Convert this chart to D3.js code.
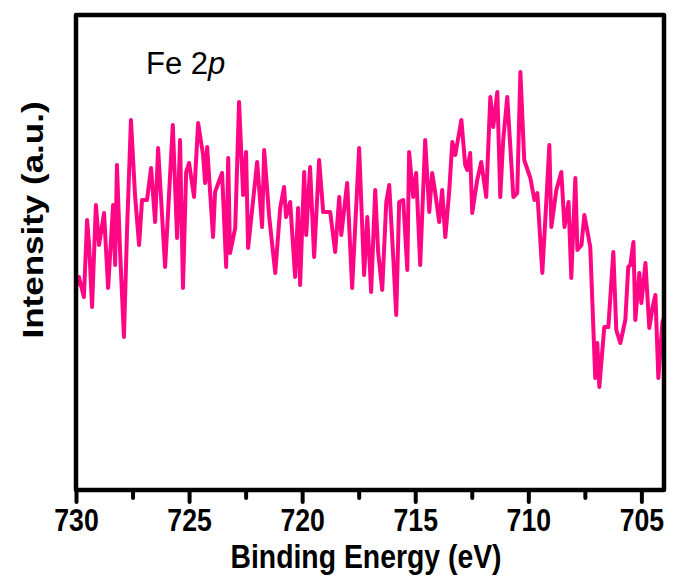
<!DOCTYPE html>
<html>
<head>
<meta charset="utf-8">
<script src="https://cdn.jsdelivr.net/npm/d3@7"></script>
<style>
  body { margin: 0; background: #fff; }
  svg { display: block; }
</style>
</head>
<body>
<div id="chart"></div>
<script>
// Fe 2p XPS spectrum (vertices of the noisy trace)
let energies = [
  729.96, 729.87, 729.65, 729.51, 729.42, 729.29, 729.12, 728.98, 728.76, 728.58,
  728.36, 728.27, 728.19, 728.05, 727.88, 727.74, 727.57, 727.39, 727.21, 727.08,
  726.86, 726.68, 726.50, 726.37, 726.24, 726.06, 725.72, 725.53, 725.40, 725.27,
  725.13, 725.00, 724.78, 724.60, 724.38, 724.29, 724.20, 723.94, 723.85, 723.54,
  723.36, 723.27, 723.19, 722.96, 722.79, 722.61, 722.48, 722.39, 721.99, 721.77,
  721.68, 721.46, 721.19, 720.97, 720.80, 720.71, 720.53, 720.31, 720.18, 720.09,
  719.91, 719.82, 719.65, 719.47, 719.25, 719.07, 718.76, 718.54, 718.36, 718.27,
  718.01, 717.79, 717.48, 717.26, 717.12, 716.95, 716.77, 716.64, 716.46, 716.28,
  716.15, 715.97, 715.84, 715.71, 715.53, 715.35, 715.27, 715.09, 714.96, 714.78,
  714.56, 714.38, 714.25, 714.12, 713.94, 713.81, 713.67, 713.50, 713.36, 713.23,
  712.96, 712.79, 712.70, 712.57, 712.48, 712.26, 712.08, 711.86, 711.68, 711.55,
  711.37, 711.24, 711.11, 710.93, 710.66, 710.49, 710.35, 710.18, 709.91, 709.73,
  709.60, 709.38, 709.20, 709.07, 708.98, 708.76, 708.54, 708.40, 708.22, 708.10,
  707.92, 707.83, 707.65, 707.52, 707.26, 707.04, 706.95, 706.86, 706.64, 706.46,
  706.24, 706.11, 705.93, 705.71, 705.58, 705.49, 705.35, 705.27, 705.09, 705.00,
  704.82, 704.65, 704.51, 704.38, 704.25, 704.07, 704.00
];
let intensity = [
  205, 213, 193, 270, 245, 183, 285, 245, 277, 202,
  285, 225, 325, 238, 153, 262, 370, 295, 245, 290,
  290, 322, 268, 342, 292, 223, 365, 252, 350, 202,
  318, 327, 293, 367, 335, 307, 343, 253, 298, 317,
  223, 332, 237, 262, 388, 295, 338, 242, 328, 263,
  340, 274, 217, 282, 303, 273, 288, 213, 282, 205,
  318, 255, 323, 233, 330, 278, 278, 238, 293, 255,
  307, 202, 342, 215, 273, 198, 300, 238, 200, 288,
  305, 232, 175, 288, 290, 220, 338, 293, 317, 225,
  350, 278, 317, 298, 268, 300, 253, 298, 348, 335,
  370, 325, 320, 337, 277, 310, 328, 293, 393, 363,
  398, 293, 350, 393, 293, 297, 418, 330, 312, 290,
  297, 217, 290, 345, 263, 300, 318, 263, 288, 212,
  312, 240, 245, 275, 243, 112, 147, 103, 163, 163,
  238, 160, 147, 170, 223, 225, 248, 170, 217, 187,
  227, 162, 182, 195, 112, 168, 172
];
let xTicks = [730, 725, 720, 715, 710, 705];
let xMinorTicks = [727.5, 722.5, 717.5, 712.5, 707.5];
let xDomain = [730, 704];
let yDomain = [0, 475];

let data = energies.map(function(e, i) {
  return { energy: e, counts: intensity[i] };
});

// canvas and plot frame
let W = 673, H = 578;
let margin = { top: 15, right: 9, bottom: 88, left: 76 },
  width = W - margin.left - margin.right,
  height = H - margin.top - margin.bottom;

let font = "'Liberation Sans', Arial, sans-serif";
let squeeze = 0.86; // the lettering in the picture is a bit narrow

let x = d3.scaleLinear().domain(xDomain).range([0, width]);
let y = d3.scaleLinear().domain(yDomain).range([height, 0]);

let svg = d3
  .select("#chart")
  .append("svg")
  .attr("width", W)
  .attr("height", H)
  .append("g")
  .attr("transform", "translate(" + margin.left + "," + margin.top + ")");

// the spectrum
let line = d3
  .line()
  .x(function(d) { return x(d.energy); })
  .y(function(d) { return y(d.counts); });

svg
  .append("path")
  .datum(data)
  .attr("fill", "none")
  .attr("stroke", "#ff0784")
  .attr("stroke-width", 4)
  .attr("stroke-linejoin", "round")
  .attr("stroke-linecap", "round")
  .attr("d", line);

// minor ticks
let minorAxis = d3.axisBottom(x).tickValues(xMinorTicks).tickSize(8).tickFormat("");
svg
  .append("g")
  .attr("transform", "translate(0," + height + ")")
  .call(minorAxis)
  .call(function(g) { g.select(".domain").remove(); })
  .selectAll("line")
  .attr("stroke", "#000")
  .attr("stroke-width", 4)
  .attr("stroke-linecap", "round");

// major ticks and labels
let xAxis = d3.axisBottom(x).tickValues(xTicks).tickSize(12).tickPadding(7).tickFormat(d3.format("d"));
let gx = svg
  .append("g")
  .attr("transform", "translate(0," + height + ")")
  .call(xAxis);
gx.select(".domain").remove();
gx.selectAll("line")
  .attr("stroke", "#000")
  .attr("stroke-width", 4)
  .attr("stroke-linecap", "round");
gx.selectAll("text")
  .attr("fill", "#000")
  .attr("transform", "scale(" + squeeze + ",1)")
  .style("font-family", font)
  .style("font-weight", "bold")
  .style("font-size", "31px");

// frame
svg
  .append("rect")
  .attr("x", 0)
  .attr("y", 0)
  .attr("width", width)
  .attr("height", height)
  .attr("fill", "none")
  .attr("stroke", "#000")
  .attr("stroke-width", 4.5)
  .attr("stroke-linejoin", "round");

// axis titles
svg
  .append("text")
  .attr("transform", "translate(" + (width / 2 - 4) + "," + (height + 78) + ") scale(" + squeeze + ",1)")
  .style("text-anchor", "middle")
  .style("font-family", font)
  .style("font-weight", "bold")
  .style("font-size", "33px")
  .text("Binding Energy (eV)");

svg
  .append("text")
  .attr("transform", "translate(-33,205) rotate(-90) scale(1," + squeeze + ")")
  .style("text-anchor", "middle")
  .style("font-family", font)
  .style("font-weight", "bold")
  .style("font-size", "35px")
  .text("Intensity (a.u.)");

// panel label
let label = svg
  .append("text")
  .attr("x", 70)
  .attr("y", 59)
  .style("font-family", font)
  .style("font-size", "31px");
label.append("tspan").text("Fe 2");
label.append("tspan").style("font-style", "italic").text("p");
</script>
</body>
</html>
